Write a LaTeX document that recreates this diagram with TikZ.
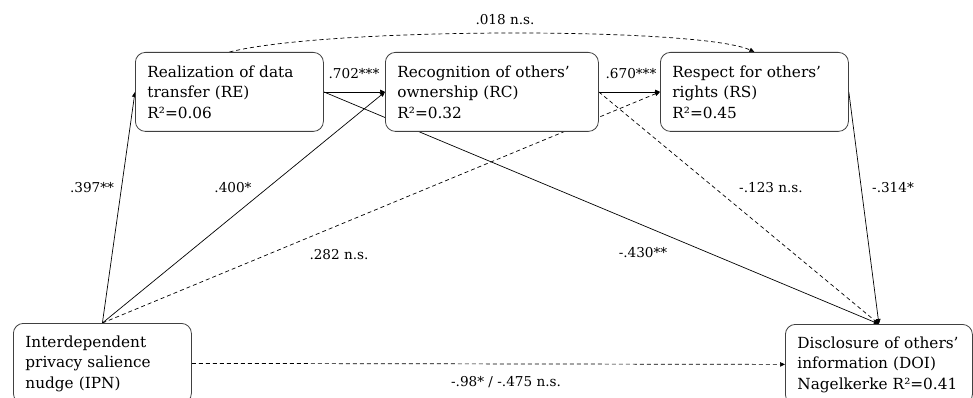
\documentclass[tikz,border=0pt]{standalone}
\usepackage{fontspec}
\setmainfont{DejaVu Serif}
\usetikzlibrary{arrows.meta,backgrounds}
\begin{document}
\begin{tikzpicture}[x=1pt,y=-1pt,
  box/.style={draw=black!75, line width=0.8pt, rounded corners=10pt, fill=white,
    anchor=north west, align=left, inner xsep=12pt, inner ysep=0pt,
    minimum height=79pt, font=\fontsize{15.3}{20.5}\selectfont},
  lbl/.style={font=\fontsize{13.6}{16}\selectfont, inner sep=1pt},
  conn/.style={line width=0.7pt, -{Triangle[length=5pt,width=4.5pt]}},
  dsh/.style={conn, dash pattern=on 4pt off 3pt}]
\useasboundingbox (0,0) rectangle (973,398);
\clip (0,0) rectangle (973,398);

% constructs
\node[box, text width=164pt] (RE) at (135,52)
  {Realization of data\\transfer (RE)\\R²=0.06};
\node[box, text width=189pt] (RC) at (385,52)
  {Recognition of others'\\ownership (RC)\\R²=0.32};
\node[box, text width=164pt] (RS) at (660,52)
  {Respect for others'\\rights (RS)\\R²=0.45};
\node[box, text width=154pt, minimum height=80pt] (IPN) at (13,323)
  {Interdependent\\privacy salience\\nudge (IPN)};
\node[box, text width=163pt, minimum height=80pt] (DOI) at (785,324)
  {Disclosure of others'\\information (DOI)\\Nagelkerke R²=0.41};

% paths, kept behind the boxes
\begin{scope}[on background layer]
  \draw[conn] (IPN.north) -- (RE.west);
  \draw[conn] (IPN.north) -- (RC.west);
  \draw[dsh]  (IPN.north) -- (RS.west);
  \draw[conn] (RE.east) -- (RC.west);
  \draw[conn] (RC.east) -- (RS.west);
  \draw[conn] (RE.east) -- (DOI.north);
  \draw[dsh]  (RC.east) -- (DOI.north);
  \draw[conn] (RS.east) -- (DOI.north);
  \draw[dsh]  (IPN.east) -- (DOI.west);
  \draw[dsh]  (RE.north) .. controls +(100,-25) and +(-54,-25) .. (RS.north);
\end{scope}

% path coefficients
\node[lbl] (cRERS)  at (505,20)  {.018 n.s.};
\node[lbl] (cRERC)  at (354,74)  {.702***};
\node[lbl] (cRCRS)  at (631,74)  {.670***};
\node[lbl] (cIPNRE) at (92,188)  {.397**};
\node[lbl] (cIPNRC) at (233,188) {.400*};
\node[lbl] (cIPNRS) at (339,255) {.282 n.s.};
\node[lbl] (cREDOI) at (643,253) {-.430**};
\node[lbl] (cRCDOI) at (771,188) {-.123 n.s.};
\node[lbl] (cRSDOI) at (893,188) {-.314*};
\node[lbl] (cIPNDOI) at (506,382) {-.98* / -.475 n.s.};
\end{tikzpicture}
\end{document}
